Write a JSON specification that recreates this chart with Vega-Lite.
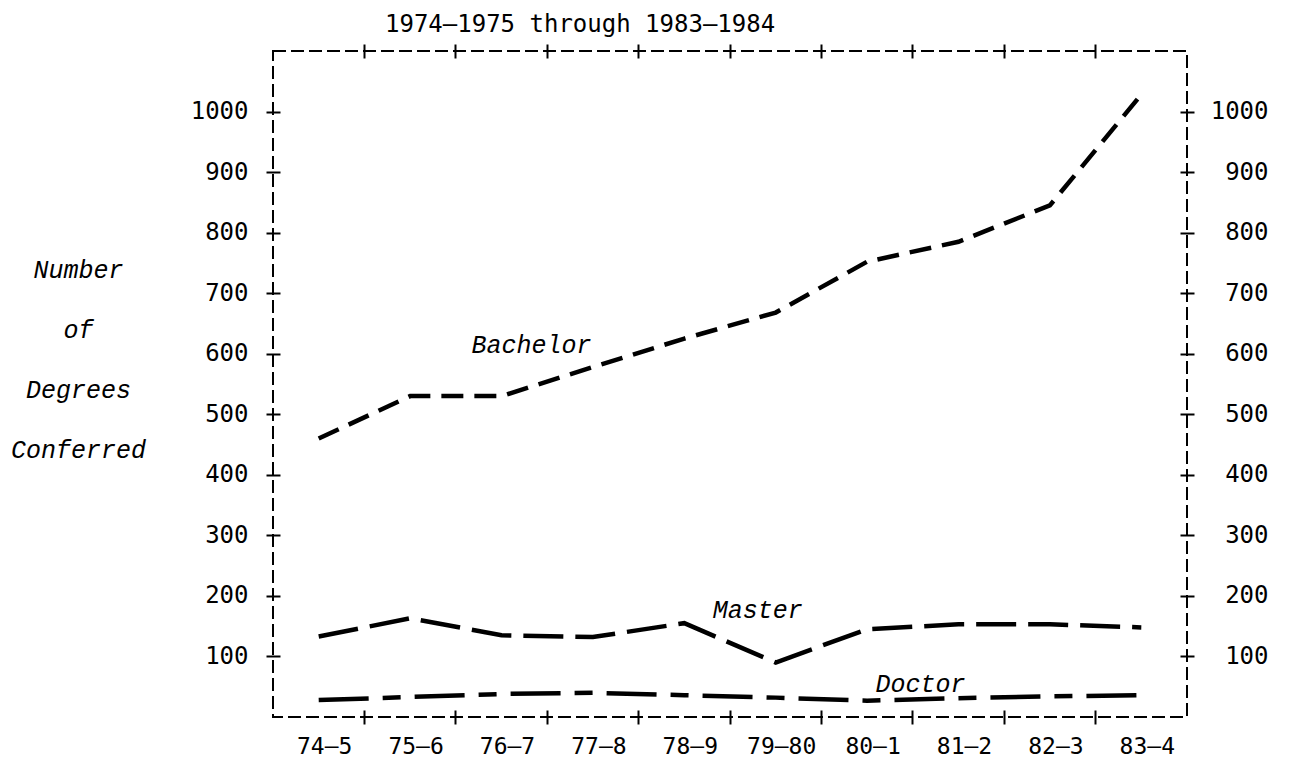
{
  "$schema": "https://vega.github.io/schema/vega-lite/v6.json",
  "width": 914,
  "height": 666,
  "autosize": {"type": "none"},
  "padding": {"left": 273, "top": 51, "right": 103, "bottom": 44},
  "background": "white",
  "config": {
    "view": {"stroke": "black", "strokeWidth": 2, "strokeDash": [13, 5]},
    "font": "DejaVu Sans Mono",
    "axis": {"labelFont": "DejaVu Sans Mono", "labelFontSize": 24, "labelColor": "black", "tickColor": "black", "tickWidth": 2, "domain": false, "grid": false}
  },
  "title": {
    "text": "1974–1975 through 1983–1984",
    "anchor": "start",
    "frame": "group",
    "font": "DejaVu Sans Mono",
    "fontSize": 24,
    "fontWeight": "normal",
    "color": "black",
    "baseline": "alphabetic",
    "dx": 112,
    "offset": -13
  },
  "datasets": {
    "degrees": [
      {"year": "74–5", "series": "Bachelor", "value": 460},
      {"year": "75–6", "series": "Bachelor", "value": 530},
      {"year": "76–7", "series": "Bachelor", "value": 530},
      {"year": "77–8", "series": "Bachelor", "value": 578},
      {"year": "78–9", "series": "Bachelor", "value": 625},
      {"year": "79–80", "series": "Bachelor", "value": 668},
      {"year": "80–1", "series": "Bachelor", "value": 752},
      {"year": "81–2", "series": "Bachelor", "value": 785},
      {"year": "82–3", "series": "Bachelor", "value": 845},
      {"year": "83–4", "series": "Bachelor", "value": 1028},
      {"year": "74–5", "series": "Master", "value": 133},
      {"year": "75–6", "series": "Master", "value": 163},
      {"year": "76–7", "series": "Master", "value": 135},
      {"year": "77–8", "series": "Master", "value": 132},
      {"year": "78–9", "series": "Master", "value": 155},
      {"year": "79–80", "series": "Master", "value": 90},
      {"year": "80–1", "series": "Master", "value": 145},
      {"year": "81–2", "series": "Master", "value": 153},
      {"year": "82–3", "series": "Master", "value": 153},
      {"year": "83–4", "series": "Master", "value": 148},
      {"year": "74–5", "series": "Doctor", "value": 28},
      {"year": "75–6", "series": "Doctor", "value": 33},
      {"year": "76–7", "series": "Doctor", "value": 38},
      {"year": "77–8", "series": "Doctor", "value": 40},
      {"year": "78–9", "series": "Doctor", "value": 36},
      {"year": "79–80", "series": "Doctor", "value": 32},
      {"year": "80–1", "series": "Doctor", "value": 27},
      {"year": "81–2", "series": "Doctor", "value": 31},
      {"year": "82–3", "series": "Doctor", "value": 34},
      {"year": "83–4", "series": "Doctor", "value": 36}
    ],
    "labels": [
      {"year": "76–7", "series": "Bachelor", "value": 602},
      {"year": "79–80", "series": "Master", "value": 163},
      {"year": "81–2", "series": "Doctor", "value": 41}
    ]
  },
  "layer": [
    {
      "data": {"name": "degrees"},
      "mark": {"type": "line", "strokeWidth": 4.5, "color": "black", "strokeCap": "butt"},
      "encoding": {
        "x": {
          "field": "year", "type": "ordinal", "sort": null, "bandPosition": 0.5,
          "scale": {"type": "band", "paddingInner": 0, "paddingOuter": 0},
          "axis": {"orient": "bottom", "title": null, "ticks": false, "labelAngle": 0, "labelPadding": 18, "labelOffset": 6, "labelFontSize": 23}
        },
        "y": {
          "field": "value", "type": "quantitative",
          "scale": {"domain": [0, 1100], "nice": false, "zero": true},
          "axis": {
            "orient": "left", "values": [100, 200, 300, 400, 500, 600, 700, 800, 900, 1000], "format": "d",
            "offset": -7, "tickSize": 14, "labelPadding": 18,
            "title": ["Number", "of", "Degrees", "Conferred"],
            "titleAngle": 0, "titleAlign": "center", "titleBaseline": "alphabetic",
            "titleX": -202, "titleY": 226, "titleLineHeight": 60,
            "titleFont": "Liberation Mono", "titleFontStyle": "italic", "titleFontWeight": "normal",
            "titleFontSize": 25, "titleColor": "black"
          }
        },
        "detail": {"field": "series"},
        "strokeDash": {
          "field": "series", "type": "nominal", "legend": null,
          "scale": {"domain": ["Bachelor", "Master", "Doctor"], "range": [[22, 11], [40, 12], [50, 14, 18, 14]]}
        }
      }
    },
    {
      "data": {"name": "labels"},
      "transform": [{"filter": "datum.series === 'Bachelor'"}],
      "mark": {"type": "text", "font": "Liberation Mono", "fontStyle": "italic", "fontSize": 25, "color": "black", "align": "center", "baseline": "alphabetic", "dx": 30},
      "encoding": {
        "x": {
          "field": "year", "type": "ordinal", "sort": null, "bandPosition": 0.5,
          "axis": {"orient": "bottom", "title": null, "labels": false, "offset": -7, "tickSize": 14, "bandPosition": 0,
                   "values": ["75–6", "76–7", "77–8", "78–9", "79–80", "80–1", "81–2", "82–3", "83–4"]}
        },
        "y": {
          "field": "value", "type": "quantitative",
          "axis": {"orient": "right", "values": [100, 200, 300, 400, 500, 600, 700, 800, 900, 1000], "format": "d",
                   "offset": -7, "tickSize": 14, "labelPadding": 74, "labelAlign": "right", "title": null}
        },
        "text": {"field": "series"}
      }
    },
    {
      "data": {"name": "labels"},
      "transform": [{"filter": "datum.series === 'Master'"}],
      "mark": {"type": "text", "font": "Liberation Mono", "fontStyle": "italic", "fontSize": 25, "color": "black", "align": "center", "baseline": "alphabetic", "dx": -18},
      "encoding": {
        "x": {
          "field": "year", "type": "ordinal", "sort": null, "bandPosition": 0.5,
          "axis": {"orient": "top", "title": null, "labels": false, "offset": -7, "tickSize": 14, "bandPosition": 0,
                   "values": ["75–6", "76–7", "77–8", "78–9", "79–80", "80–1", "81–2", "82–3", "83–4"]}
        },
        "y": {"field": "value", "type": "quantitative", "axis": null},
        "text": {"field": "series"}
      }
    },
    {
      "data": {"name": "labels"},
      "transform": [{"filter": "datum.series === 'Doctor'"}],
      "mark": {"type": "text", "font": "Liberation Mono", "fontStyle": "italic", "fontSize": 25, "color": "black", "align": "center", "baseline": "alphabetic", "dx": -38},
      "encoding": {
        "x": {"field": "year", "type": "ordinal", "sort": null, "bandPosition": 0.5, "axis": null},
        "y": {"field": "value", "type": "quantitative", "axis": null},
        "text": {"field": "series"}
      }
    }
  ],
  "resolve": {"axis": {"x": "independent", "y": "independent"}}
}
